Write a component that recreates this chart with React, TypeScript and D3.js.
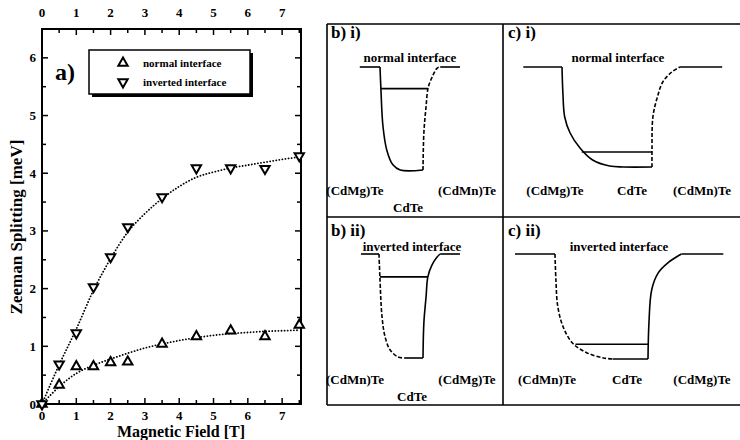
import React from 'react';
import * as d3 from 'd3';

// Zeeman splitting vs magnetic field (panel a)
const fieldT = [0, 0.5, 1, 1.5, 2, 2.5, 3.5, 4.5, 5.5, 6.5, 7.5];
const normalSplit = [0, 0.33, 0.65, 0.65, 0.72, 0.73, 1.04, 1.17, 1.27, 1.17, 1.37];
const invertedSplit = [0, 0.69, 1.23, 2.03, 2.55, 3.07, 3.59, 4.09, 4.09, 4.08, 4.3];

// dotted guide curves
const fitField = [0, 0.5, 1, 1.5, 2, 2.5, 3, 3.5, 4, 4.5, 5, 5.5, 6, 6.5, 7, 7.5];
const normalFit = [0, 0.3, 0.53, 0.67, 0.78, 0.88, 0.97, 1.04, 1.1, 1.15, 1.19, 1.22, 1.24, 1.26, 1.27, 1.28];
const invertedFit = [0, 0.68, 1.3, 1.97, 2.52, 2.98, 3.3, 3.56, 3.77, 3.93, 4.02, 4.09, 4.14, 4.19, 4.24, 4.28];

const xTicks = [0, 1, 2, 3, 4, 5, 6, 7];
const xMinor = [0.5, 1.5, 2.5, 3.5, 4.5, 5.5, 6.5, 7.5];
const yTicks = [0, 1, 2, 3, 4, 5, 6];
const yMinor = [0.5, 1.5, 2.5, 3.5, 4.5, 5.5];

// band profiles: z in well widths (0 = left interface, 1 = right), E in barrier heights
type P = [number, number];
const biBarrierL: P[] = [[-0.47, 1], [0, 1]];
const biWallL: P[] = [[0, 1], [0.02, 0.8], [0.07, 0.42], [0.16, 0.19], [0.3, 0.05], [0.47, 0], [1, 0]];
const biWallR: P[] = [[1, 0], [1.02, 0.36], [1.07, 0.61], [1.12, 0.8], [1.21, 0.9], [1.33, 0.99], [1.4, 1]];
const biBarrierR: P[] = [[1.4, 1], [1.86, 1]];
const biLevel: P[] = [[0.02, 0.79], [1.12, 0.79]];

const ciBarrierL: P[] = [[-0.43, 1], [0, 1]];
const ciWallL: P[] = [[0, 1], [0.01, 0.74], [0.03, 0.5], [0.09, 0.34], [0.2, 0.19], [0.34, 0.07], [0.53, 0.01], [0.68, 0], [1, 0]];
const ciWallR: P[] = [[1, 0], [1, 0.17], [1.01, 0.5], [1.06, 0.7], [1.12, 0.85], [1.22, 0.95], [1.31, 1]];
const ciBarrierR: P[] = [[1.31, 1], [1.78, 1]];
const ciLevel: P[] = [[0.22, 0.15], [1, 0.15]];

const biiBarrierL: P[] = [[-0.41, 1], [0, 1]];
const biiWallL: P[] = [[0, 1], [0.02, 0.78], [0.07, 0.39], [0.14, 0.2], [0.25, 0.08], [0.43, 0.01], [0.59, 0]];
const biiBottom: P[] = [[0.59, 0], [1, 0]];
const biiWallR: P[] = [[1, 0], [1.02, 0.34], [1.07, 0.59], [1.11, 0.78], [1.2, 0.89], [1.32, 0.97], [1.39, 1]];
const biiBarrierR: P[] = [[1.39, 1], [1.84, 1]];
const biiLevel: P[] = [[0.02, 0.78], [1.11, 0.78]];

const ciiBarrierL: P[] = [[-0.43, 1], [0, 1]];
const ciiWallL: P[] = [[0, 1], [0.01, 0.75], [0.03, 0.5], [0.09, 0.3], [0.19, 0.15], [0.34, 0.06], [0.52, 0.01], [0.62, 0]];
const ciiBottom: P[] = [[0.62, 0], [1, 0]];
const ciiWallR: P[] = [[1, 0], [1.01, 0.34], [1.04, 0.66], [1.11, 0.82], [1.22, 0.92], [1.34, 0.99], [1.36, 1]];
const ciiBarrierR: P[] = [[1.36, 1], [1.81, 1]];
const ciiLevel: P[] = [[0.22, 0.14], [1, 0.14]];

const FONT = '"Liberation Serif", "DejaVu Serif", serif';

type Seg = { pts: P[]; dashed?: boolean; curved?: boolean };
type Panel = {
  label: string;
  title: string;
  lx: number;
  ly: number;
  tx: number;
  ty: number;
  zr: [number, number];
  er: [number, number];
  segs: Seg[];
  names: { t: string; x: number; y: number }[];
};

const panels: Panel[] = [
  {
    label: 'b) i)', title: 'normal interface', lx: 331, ly: 38, tx: 410, ty: 62,
    zr: [380, 423], er: [170, 67],
    segs: [
      { pts: biBarrierL }, { pts: biWallL, curved: true }, { pts: biWallR, curved: true, dashed: true },
      { pts: biBarrierR }, { pts: biLevel },
    ],
    names: [{ t: '(CdMg)Te', x: 355, y: 195 }, { t: '(CdMn)Te', x: 467, y: 195 }, { t: 'CdTe', x: 408, y: 212 }],
  },
  {
    label: 'c) i)', title: 'normal interface', lx: 508, ly: 38, tx: 618, ty: 62,
    zr: [562, 652], er: [167, 67],
    segs: [
      { pts: ciBarrierL }, { pts: ciWallL, curved: true }, { pts: ciWallR, curved: true, dashed: true },
      { pts: ciBarrierR }, { pts: ciLevel },
    ],
    names: [{ t: '(CdMg)Te', x: 555, y: 195 }, { t: 'CdTe', x: 632, y: 195 }, { t: '(CdMn)Te', x: 702, y: 195 }],
  },
  {
    label: 'b) ii)', title: 'inverted interface', lx: 331, ly: 236, tx: 412, ty: 251,
    zr: [379, 423], er: [358, 254],
    segs: [
      { pts: biiBarrierL }, { pts: biiWallL, curved: true, dashed: true }, { pts: biiBottom },
      { pts: biiWallR, curved: true }, { pts: biiBarrierR }, { pts: biiLevel },
    ],
    names: [{ t: '(CdMn)Te', x: 355, y: 384 }, { t: '(CdMg)Te', x: 467, y: 384 }, { t: 'CdTe', x: 412, y: 401 }],
  },
  {
    label: 'c) ii)', title: 'inverted interface', lx: 508, ly: 236, tx: 619, ty: 251,
    zr: [555, 648], er: [359, 254],
    segs: [
      { pts: ciiBarrierL }, { pts: ciiWallL, curved: true, dashed: true }, { pts: ciiBottom },
      { pts: ciiWallR, curved: true }, { pts: ciiBarrierR }, { pts: ciiLevel },
    ],
    names: [{ t: '(CdMn)Te', x: 547, y: 384 }, { t: 'CdTe', x: 627, y: 384 }, { t: '(CdMg)Te', x: 702, y: 384 }],
  },
];

const plot = { left: 42, right: 301, top: 29, bottom: 404 };

export default function App() {
  const x = d3.scaleLinear().domain([0, 7.55]).range([plot.left, plot.right]);
  const y = d3.scaleLinear().domain([0, 6.5]).range([plot.bottom, plot.top]);

  const fitLine = d3
    .line<number>()
    .x((_, i) => x(fitField[i]))
    .y(d => y(d))
    .curve(d3.curveMonotoneX);

  const tri = d3.symbol(d3.symbolTriangle, 38)() || '';

  const major = 6;
  const minor = 4;

  return (
    <svg width={740} height={440} style={{ position: 'absolute', left: 0, top: 0, background: '#fff' }}
      fontFamily={FONT} fontWeight="bold">
      <rect width={740} height={440} fill="#fff" />

      {/* panel a) */}
      <g stroke="#000" strokeWidth={1.5}>
        {xTicks.map(t => (
          <g key={'xt' + t}>
            <line x1={x(t)} x2={x(t)} y1={plot.bottom} y2={plot.bottom - major} />
            <line x1={x(t)} x2={x(t)} y1={plot.top} y2={plot.top + major} />
          </g>
        ))}
        {xMinor.map(t => (
          <g key={'xm' + t}>
            <line x1={x(t)} x2={x(t)} y1={plot.bottom} y2={plot.bottom - minor} />
            <line x1={x(t)} x2={x(t)} y1={plot.top} y2={plot.top + minor} />
          </g>
        ))}
        {yTicks.map(t => (
          <g key={'yt' + t}>
            <line x1={plot.left} x2={plot.left + major} y1={y(t)} y2={y(t)} />
            <line x1={plot.right} x2={plot.right - major} y1={y(t)} y2={y(t)} />
          </g>
        ))}
        {yMinor.map(t => (
          <g key={'ym' + t}>
            <line x1={plot.left} x2={plot.left + minor} y1={y(t)} y2={y(t)} />
            <line x1={plot.right} x2={plot.right - minor} y1={y(t)} y2={y(t)} />
          </g>
        ))}
      </g>
      <rect x={plot.left} y={plot.top} width={plot.right - plot.left} height={plot.bottom - plot.top}
        fill="none" stroke="#000" strokeWidth={2} />

      {xTicks.map(t => (
        <g key={'xl' + t} fontSize={13} textAnchor="middle">
          <text x={x(t)} y={420}>{t}</text>
          <text x={x(t)} y={17}>{t}</text>
        </g>
      ))}
      {yTicks.map(t => (
        <text key={'yl' + t} x={36} y={y(t) + 4.5} fontSize={13} textAnchor="end">{t}</text>
      ))}

      <text x={181} y={437} fontSize={16} textAnchor="middle">Magnetic Field [T]</text>
      <text transform={`translate(22,227) rotate(-90)`} fontSize={17} textAnchor="middle">
        Zeeman Splitting [meV]
      </text>

      {/* guide curves */}
      <path d={fitLine(invertedFit) || ''} fill="none" stroke="#000" strokeWidth={1.8}
        strokeDasharray="0.1 3" strokeLinecap="round" />
      <path d={fitLine(normalFit) || ''} fill="none" stroke="#000" strokeWidth={1.8}
        strokeDasharray="0.1 3" strokeLinecap="round" />

      {/* markers */}
      <g fill="#fff" stroke="#000" strokeWidth={2}>
        {fieldT.map((f, i) => (
          <path key={'n' + i} d={tri} transform={`translate(${x(f)},${y(normalSplit[i])})`} />
        ))}
        {fieldT.map((f, i) => (
          <path key={'v' + i} d={tri} transform={`translate(${x(f)},${y(invertedSplit[i])}) rotate(180)`} />
        ))}
      </g>

      <text x={55} y={80} fontSize={24}>a)</text>

      {/* legend */}
      <rect x={92} y={53} width={161} height={44} fill="#000" />
      <rect x={89} y={50} width={161} height={44} fill="#fff" stroke="#000" strokeWidth={1.5} />
      <g fill="#fff" stroke="#000" strokeWidth={2}>
        <path d={tri} transform="translate(123,63)" />
        <path d={tri} transform="translate(123,82) rotate(180)" />
      </g>
      <text x={143} y={67} fontSize={11}>normal interface</text>
      <text x={143} y={86} fontSize={11}>inverted interface</text>

      {/* schematic panels */}
      <g stroke="#000" strokeWidth={1.6} fill="none">
        <line x1={327} x2={740} y1={24} y2={24} />
        <line x1={327} x2={740} y1={217} y2={217} />
        <line x1={327} x2={740} y1={405} y2={405} />
        <line x1={327} x2={327} y1={24} y2={405} />
        <line x1={503} x2={503} y1={24} y2={405} />
      </g>
      {panels.map(p => {
        const zs = d3.scaleLinear().domain([0, 1]).range(p.zr);
        const es = d3.scaleLinear().domain([0, 1]).range(p.er);
        const straight = d3.line<P>().x(d => zs(d[0])).y(d => es(d[1]));
        const smooth = d3.line<P>().x(d => zs(d[0])).y(d => es(d[1])).curve(d3.curveCatmullRom.alpha(0.5));
        return (
          <g key={p.label}>
            <text x={p.lx} y={p.ly} fontSize={17}>{p.label}</text>
            <text x={p.tx} y={p.ty} fontSize={13} textAnchor="middle">{p.title}</text>
            {p.segs.map((s, i) => (
              <path key={i} d={(s.curved ? smooth : straight)(s.pts) || ''} fill="none" stroke="#000"
                strokeWidth={1.6} strokeDasharray={s.dashed ? '4 2' : undefined} />
            ))}
            {p.names.map(n => (
              <text key={n.t} x={n.x} y={n.y} fontSize={13} textAnchor="middle">{n.t}</text>
            ))}
          </g>
        );
      })}
    </svg>
  );
}
